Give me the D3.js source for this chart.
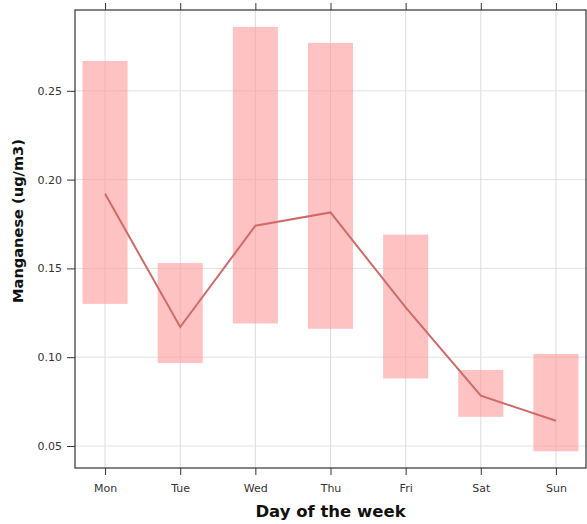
<!DOCTYPE html>
<html>
<head>
<meta charset="utf-8">
<script src="https://cdn.jsdelivr.net/npm/d3@7"></script>
<style>
  html, body { margin: 0; padding: 0; background: #fff; }
  svg { display: block; }
</style>
</head>
<body>
<svg id="chart" width="587" height="524"></svg>
<script>
// days of the week, mean manganese and the low/high range per day
const days  = ["Mon", "Tue", "Wed", "Thu", "Fri", "Sat", "Sun"];
const means = [0.192, 0.117, 0.174, 0.1815, 0.128, 0.0783, 0.0642];
const lows  = [0.130, 0.0967, 0.119, 0.116, 0.088, 0.0664, 0.047];
const highs = [0.2668, 0.153, 0.286, 0.277, 0.169, 0.0928, 0.1018];
const yTicks = [0.05, 0.10, 0.15, 0.20, 0.25];

const W = 587, H = 524;
const m = { top: 10, right: 1, bottom: 56, left: 75 };
const w = W - m.left - m.right;
const h = H - m.top - m.bottom;

const svg = d3.select("#chart");
const g = svg.append("g").attr("transform", `translate(${m.left},${m.top})`);

const x = d3.scaleLinear().domain([0.6, 7.4]).range([0, w]);
const y = d3.scaleLinear().domain([0.0376, 0.2955]).range([h, 0]);
const xi = (d, i) => x(i + 1);

// grid
g.append("g").selectAll("line").data(yTicks).join("line")
    .attr("x1", 0).attr("x2", w)
    .attr("y1", d => y(d)).attr("y2", d => y(d))
    .attr("stroke", "#e2e2e2").attr("stroke-width", 1);
g.append("g").selectAll("line").data(days).join("line")
    .attr("x1", xi).attr("x2", xi)
    .attr("y1", 0).attr("y2", h)
    .attr("stroke", "#dcdcdc").attr("stroke-width", 1);

// range bars
const bw = x(1.3) - x(0.7);
g.append("g").selectAll("rect").data(days).join("rect")
    .attr("x", (d, i) => x(i + 1) - bw / 2)
    .attr("width", bw)
    .attr("y", (d, i) => y(highs[i]))
    .attr("height", (d, i) => y(lows[i]) - y(highs[i]))
    .attr("fill", "#ff9a9a").attr("fill-opacity", 0.6);

// mean line
g.append("path").datum(means)
    .attr("fill", "none").attr("stroke", "#d06a68").attr("stroke-width", 2)
    .attr("d", d3.line().x((d, i) => x(i + 1)).y(d => y(d)));

// frame
g.append("rect").attr("x", 0).attr("y", 0).attr("width", w).attr("height", h)
    .attr("fill", "none").attr("stroke", "#333").attr("stroke-width", 1.2);

// axes
const styleAxis = sel => {
    sel.select(".domain").remove();
    sel.selectAll("line").attr("stroke", "#333");
    sel.selectAll("text").attr("fill", "#333").attr("font-size", 11)
        .attr("font-family", "'DejaVu Sans', sans-serif");
};
g.append("g").attr("transform", `translate(0,${h})`)
    .call(d3.axisBottom(x).tickValues(d3.range(1, 8)).tickFormat(i => days[i - 1])
        .tickSize(7).tickPadding(9))
    .call(styleAxis);
g.append("g")
    .call(d3.axisTop(x).tickValues(d3.range(1, 8)).tickFormat("").tickSize(7))
    .call(styleAxis);
g.append("g")
    .call(d3.axisLeft(y).tickValues(yTicks).tickFormat(d3.format(".2f"))
        .tickSize(8).tickPadding(5))
    .call(styleAxis);

// titles
svg.append("text")
    .attr("x", m.left + w / 2).attr("y", 517)
    .attr("text-anchor", "middle")
    .attr("font-family", "'DejaVu Sans', sans-serif").attr("font-weight", "bold")
    .attr("font-size", 16.5).attr("fill", "#111")
    .text("Day of the week");
svg.append("text")
    .attr("transform", `translate(23,${m.top + h / 2 - 18}) rotate(-90)`)
    .attr("text-anchor", "middle")
    .attr("font-family", "'DejaVu Sans', sans-serif").attr("font-weight", "bold")
    .attr("font-size", 14.6).attr("fill", "#111")
    .text("Manganese (ug/m3)");
</script>
</body>
</html>
